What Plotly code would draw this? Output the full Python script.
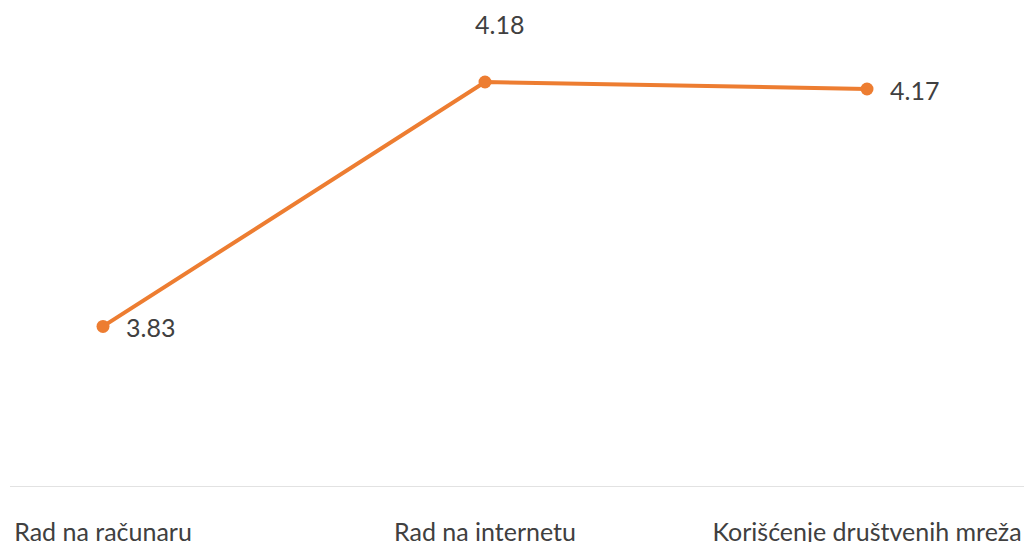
import plotly.graph_objects as go

categories = ["Rad na računaru", "Rad na internetu", "Korišćenje društvenih mreža"]
values = [3.83, 4.18, 4.17]
label_pos = ["right", "top", "right"]

xs = list(range(len(categories)))
color = "#ED7D31"
font = "Lato"

fig = go.Figure()
fig.add_trace(go.Scatter(
    x=xs, y=values, mode="lines+markers",
    line=dict(color=color, width=4),
    marker=dict(color=color, size=13),
    hoverinfo="skip",
))

for x, v, p in zip(xs, values, label_pos):
    if p == "right":
        fig.add_annotation(x=x, y=v, text=f"{v:.2f}", showarrow=False,
                           xanchor="left", yanchor="middle", xshift=21, yshift=-1,
                           font=dict(family=font, size=25, color="#404040"))
    else:
        fig.add_annotation(x=x, y=v, text=f"{v:.2f}", showarrow=False,
                           xanchor="center", yanchor="middle", xshift=14, yshift=58,
                           font=dict(family=font, size=25, color="#404040"))

fig.add_shape(type="line", xref="paper", yref="y", x0=2/1024, x1=1, y0=3.6, y1=3.6,
              line=dict(color="#D9D9D9", width=1.5))

fig.update_layout(
    width=1024, height=534,
    margin=dict(l=0, r=0, t=0, b=55, autoexpand=False),
    paper_bgcolor="white", plot_bgcolor="white",
    showlegend=False,
    xaxis=dict(range=[-95/382, 2 + 165/382], tickvals=xs, ticktext=categories,
               showgrid=False, zeroline=False, showline=False, ticks="",
               automargin=False,
               tickfont=dict(family=font, size=25, color="#404040"),
               ticklabelstandoff=28),
    yaxis=dict(range=[3.6, 4.286], showgrid=False, zeroline=False, showline=False,
               showticklabels=False, automargin=False),
)

fig.write_html("out.html")
